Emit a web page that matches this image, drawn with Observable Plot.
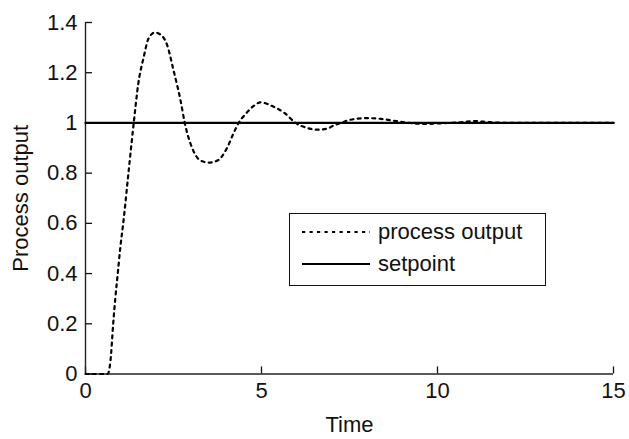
<!DOCTYPE html>
<html><head><meta charset="utf-8">
<script src="https://cdn.jsdelivr.net/npm/d3@7"></script>
<script src="https://cdn.jsdelivr.net/npm/@observablehq/plot@0.6"></script>
<style>
body{margin:0;background:#fff;}
#wrap{position:relative;width:629px;height:439px;overflow:hidden;}
.legend{position:absolute;left:289px;top:213px;width:255px;height:71px;border:1.5px solid #111;font-family:"Liberation Sans",Arial,sans-serif;font-size:22px;color:#111;background:#fff;}
.row{position:absolute;left:12px;height:26px;display:flex;align-items:center;}
.row svg{display:block;margin-right:8px;}
</style></head><body><div id="wrap"></div><script>
const time   = [0, 0.3, 0.63, 0.71, 0.79, 0.85, 0.92, 0.99, 1.07, 1.22, 1.37, 1.5, 1.65, 1.79, 1.97, 2.13, 2.32, 2.5, 2.7, 2.82, 3.03, 3.27, 3.5, 3.75, 4.03, 4.2, 4.35, 4.55, 4.78, 4.97, 5.35, 5.65, 5.97, 6.3, 6.6, 6.9, 7.05, 7.24, 7.5, 8.0, 8.4, 8.7, 9.1, 9.6, 10.2, 10.6, 11.05, 11.5, 12, 15];
const output = [0, 0, 0, 0.053, 0.206, 0.306, 0.405, 0.505, 0.598, 0.8, 1.0, 1.157, 1.26, 1.336, 1.36, 1.352, 1.31, 1.21, 1.09, 1.0, 0.9, 0.85, 0.842, 0.85, 0.903, 0.957, 1.0, 1.036, 1.068, 1.082, 1.064, 1.04, 1.0, 0.98, 0.973, 0.979, 0.99, 0.999, 1.012, 1.019, 1.016, 1.01, 1.002, 0.996, 0.999, 1.002, 1.007, 1.003, 1.0, 1.0];
const setpointTime  = [0, 15];
const setpointValue = [1, 1];
const xTicks = [0, 5, 10, 15];
const yTicks = [0, 0.2, 0.4, 0.6, 0.8, 1, 1.2, 1.4];
const yTickLabels = ["0", "0.2", "0.4", "0.6", "0.8", "1", "1.2", "1.4"];
const xLabel = "Time";
const yLabel = "Process output";
const legendLabels = ["process output", "setpoint"];

const processData = time.map((t, i) => ({t, v: output[i]}));
const setpointData = setpointTime.map((t, i) => ({t, v: setpointValue[i]}));

const chart = Plot.plot({
  width: 629, height: 439,
  marginLeft: 85, marginRight: 16, marginTop: 22, marginBottom: 65.5,
  style: {fontFamily: "'Liberation Sans', Arial, sans-serif", fontSize: "22px", color: "#111", background: "#fff", overflow: "visible"},
  x: {domain: [0, 15]},
  y: {domain: [0, 1.4]},
  marks: [
    Plot.axisX(xTicks, {tickSize: 0, tickPadding: 8, label: xLabel, labelAnchor: "center", labelOffset: 58, labelArrow: false, fontSize: 22}),
    Plot.axisX(xTicks, {tickSize: -7, text: null, label: null, strokeWidth: 1.3}),
    Plot.axisY(yTicks, {tickSize: 0, tickPadding: 8, tickFormat: d => yTickLabels[yTicks.indexOf(d)], label: yLabel, labelAnchor: "center", labelOffset: 73, labelArrow: false, fontSize: 22}),
    Plot.axisY(yTicks, {tickSize: -7, text: null, label: null, strokeWidth: 1.3}),
    Plot.ruleY([0], {stroke: "#222", strokeWidth: 1.4}),
    Plot.ruleX([0], {stroke: "#222", strokeWidth: 1.4}),
    Plot.line(setpointData, {x: "t", y: "v", stroke: "#000", strokeWidth: 2.2}),
    Plot.line(processData, {x: "t", y: "v", curve: "monotone-x", stroke: "#000", strokeWidth: 2.2, strokeDasharray: "3,4.3"})
  ]
});
const wrap = document.getElementById("wrap");
wrap.appendChild(chart);

const legend = document.createElement("div");
legend.className = "legend";
const dashes = ["3.2,4.3", null];
legendLabels.forEach((lab, i) => {
  const row = document.createElement("div");
  row.className = "row";
  row.style.top = (5 + i * 32) + "px";
  const d = dashes[i] ? ` stroke-dasharray="${dashes[i]}"` : "";
  row.innerHTML = `<svg width="68" height="6"><line x1="0" y1="3" x2="68" y2="3" stroke="#000" stroke-width="2.2"${d}/></svg><span>${lab}</span>`;
  legend.appendChild(row);
});
wrap.appendChild(legend);
</script></body></html>
